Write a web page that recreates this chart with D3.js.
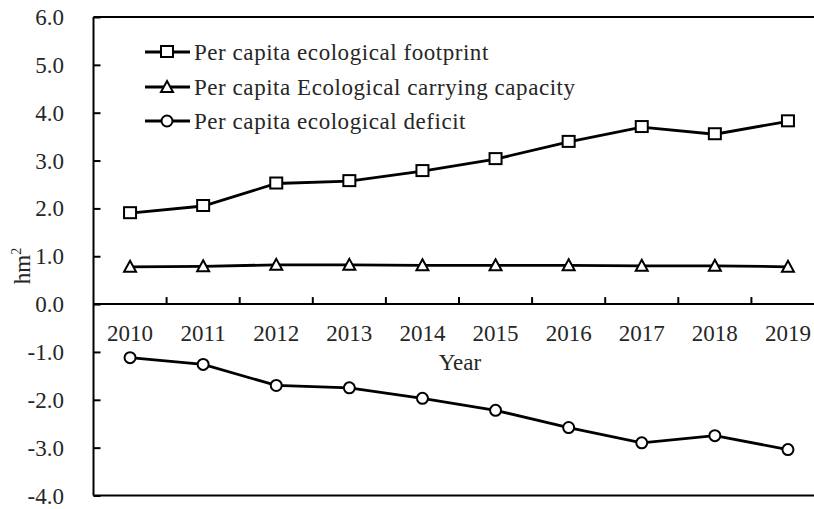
<!DOCTYPE html>
<html>
<head>
<meta charset="utf-8">
<script src="https://cdn.jsdelivr.net/npm/d3@7"></script>
<style>
  html, body { margin: 0; padding: 0; background: #fff; overflow: hidden; }
  svg { display: block; font-family: "Liberation Serif", "Times New Roman", serif; }
</style>
</head>
<body>
<svg id="chart" width="814" height="509"></svg>
<script>
// Years on the category axis
const years = ["2010", "2011", "2012", "2013", "2014", "2015", "2016", "2017", "2018", "2019"];
// Per capita values, hm²
const footprint = [1.90, 2.05, 2.52, 2.57, 2.78, 3.03, 3.39, 3.70, 3.55, 3.82];
const capacity  = [0.78, 0.79, 0.82, 0.82, 0.81, 0.81, 0.81, 0.80, 0.80, 0.78];
const deficit   = [-1.12, -1.26, -1.70, -1.75, -1.97, -2.22, -2.58, -2.90, -2.75, -3.04];
const yTicks = [6, 5, 4, 3, 2, 1, 0, -1, -2, -3, -4];
const seriesNames = [
  "Per capita ecological footprint",
  "Per capita Ecological carrying capacity",
  "Per capita ecological deficit"
];

const svg = d3.select("#chart");
const plotLeft = 93.5, plotRight = 824.5, plotTop = 17, plotBottom = 495.5;
const fontSize = 23;
const textColor = "#262626";

const x = d3.scaleBand().domain(years).range([plotLeft, plotRight]).padding(0);
const y = d3.scaleLinear().domain([-4, 6]).range([plotBottom, plotTop]);
const cx = d => x(d) + x.bandwidth() / 2;
const fmt = v => v.toFixed(1); // plain hyphen for negatives

// frame: top and bottom borders
svg.append("line").attr("x1", plotLeft).attr("x2", plotRight).attr("y1", plotTop).attr("y2", plotTop)
  .attr("stroke", "#000").attr("stroke-width", 2);
svg.append("line").attr("x1", plotLeft).attr("x2", plotRight).attr("y1", plotBottom).attr("y2", plotBottom)
  .attr("stroke", "#000").attr("stroke-width", 2);

// value axis, ticks pointing into the plot
const yAxis = svg.append("g").attr("transform", `translate(${plotLeft},0)`)
  .call(d3.axisRight(y).tickValues(yTicks).tickSize(7).tickFormat(""));
yAxis.select(".domain").attr("stroke-width", 2).attr("d", `M0,${plotTop}V${plotBottom}`);
yAxis.selectAll(".tick line").attr("stroke-width", 2);
svg.append("g").selectAll("text").data(yTicks).join("text")
  .attr("x", 64).attr("y", d => y(d)).attr("dy", "0.35em")
  .attr("text-anchor", "end").attr("font-size", fontSize).attr("fill", textColor)
  .text(fmt);

// category axis along zero, boundary ticks pointing up
const boundaries = years.slice(1).map(d => x(d));
const zx = svg.append("g");
zx.append("line").attr("x1", plotLeft).attr("x2", plotRight).attr("y1", y(0)).attr("y2", y(0))
  .attr("stroke", "#000").attr("stroke-width", 2);
zx.selectAll("line.tk").data(boundaries).join("line").attr("class", "tk")
  .attr("x1", d => d).attr("x2", d => d).attr("y1", y(0)).attr("y2", y(0) - 7)
  .attr("stroke", "#000").attr("stroke-width", 2);
zx.selectAll("text").data(years).join("text")
  .attr("x", d => cx(d)).attr("y", y(0) + 29).attr("dy", "0.35em")
  .attr("text-anchor", "middle").attr("font-size", fontSize).attr("fill", textColor)
  .text(d => d);

// axis titles
svg.append("text").attr("x", 460).attr("y", 362).attr("dy", "0.35em")
  .attr("text-anchor", "middle").attr("font-size", fontSize).attr("fill", textColor).text("Year");
const yt = svg.append("text").attr("transform", "translate(30,266) rotate(-90)")
  .attr("text-anchor", "middle").attr("font-size", fontSize).attr("fill", textColor);
yt.append("tspan").text("hm");
yt.append("tspan").attr("font-size", 14).attr("dy", -9).text("2");

// markers
function drawMarker(g, kind, px, py) {
  if (kind === "square") {
    g.append("rect").attr("x", px - 6).attr("y", py - 6).attr("width", 12).attr("height", 11)
      .attr("fill", "#fff").attr("stroke", "#000").attr("stroke-width", 2);
  } else if (kind === "triangle") {
    g.append("path").attr("d", `M${px},${py - 6}L${px + 6},${py + 5}L${px - 6},${py + 5}Z`)
      .attr("fill", "#fff").attr("stroke", "#000").attr("stroke-width", 2);
  } else {
    g.append("circle").attr("cx", px).attr("cy", py).attr("r", 5.5)
      .attr("fill", "#fff").attr("stroke", "#000").attr("stroke-width", 2);
  }
}

const series = [
  { values: footprint, marker: "square" },
  { values: capacity, marker: "triangle" },
  { values: deficit, marker: "circle" }
];
const line = d3.line().x((d, i) => cx(years[i])).y(d => y(d));
series.forEach(s => {
  const g = svg.append("g");
  g.append("path").datum(s.values).attr("d", line)
    .attr("fill", "none").attr("stroke", "#000").attr("stroke-width", 2.8);
  s.values.forEach((v, i) => drawMarker(g, s.marker, cx(years[i]), y(v)));
});

// legend
const legendRows = [52, 87, 121];
series.forEach((s, i) => {
  const g = svg.append("g");
  const ly = legendRows[i];
  g.append("line").attr("x1", 145).attr("x2", 190).attr("y1", ly).attr("y2", ly)
    .attr("stroke", "#000").attr("stroke-width", 2.8);
  drawMarker(g, s.marker, 167, ly);
  g.append("text").attr("x", 194).attr("y", ly).attr("dy", "0.33em")
    .attr("font-size", fontSize).attr("letter-spacing", "0.55px")
    .attr("fill", textColor).text(seriesNames[i]);
});
</script>
</body>
</html>
